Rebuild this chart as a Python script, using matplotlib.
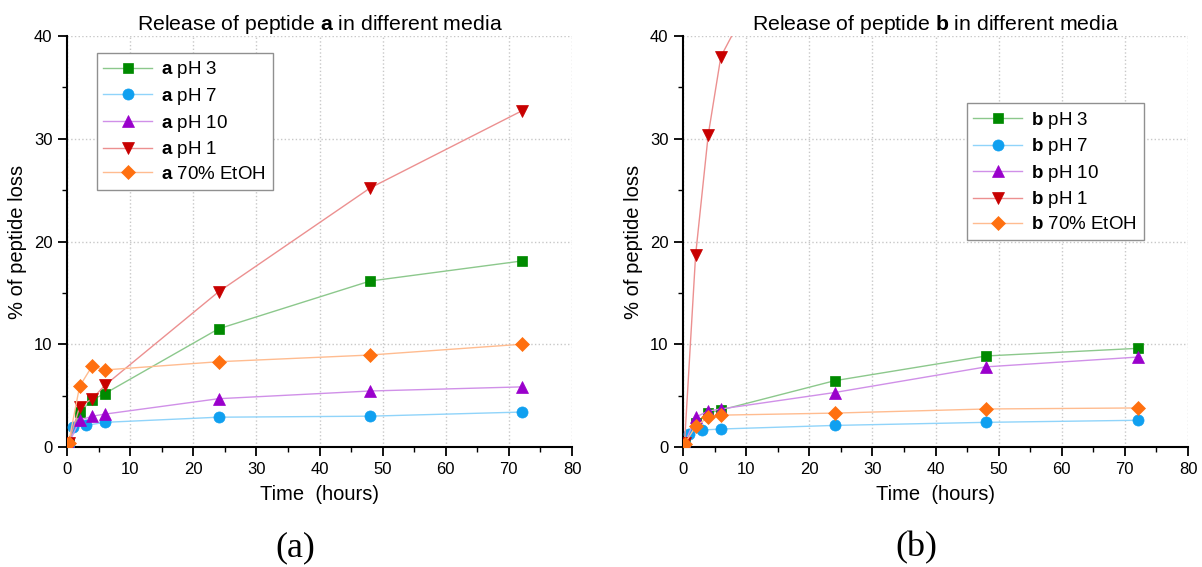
import numpy as np
import matplotlib
matplotlib.use('Agg')
import matplotlib.pyplot as plt
from matplotlib.ticker import MultipleLocator

plt.rcParams['font.family'] = 'Liberation Sans'
plt.rcParams['mathtext.fontset'] = 'custom'
plt.rcParams['mathtext.rm'] = 'Liberation Sans'
plt.rcParams['mathtext.bf'] = 'Liberation Sans:bold'

# ---- data ----
t_std = [0.25, 2, 4, 6, 24, 48, 72]
t_ph7 = [0.25, 1, 3, 6, 24, 48, 72]

a_ph3 = [0.3, 3.4, 4.6, 5.2, 11.5, 16.15, 18.1]
a_ph7 = [0.3, 1.9, 2.1, 2.4, 2.9, 3.0, 3.4]
a_ph10 = [0.3, 2.6, 3.0, 3.2, 4.7, 5.45, 5.85]
a_ph1 = [0.4, 3.9, 4.7, 6.0, 15.1, 25.2, 32.7]
a_etoh = [0.4, 5.9, 7.9, 7.5, 8.3, 8.95, 10.0]

b_ph3 = [0.3, 2.3, 3.3, 3.6, 6.45, 8.86, 9.6]
b_ph7 = [0.3, 1.3, 1.65, 1.75, 2.1, 2.4, 2.6]
b_ph10 = [0.3, 2.9, 3.5, 3.7, 5.3, 7.8, 8.75]
t_b_ph1 = [0.25, 2, 4, 6, 24]
b_ph1 = [0.4, 18.7, 30.4, 38.0, 59.0]
b_etoh = [0.3, 2.0, 2.9, 3.1, 3.3, 3.7, 3.8]

media = ['pH 3', 'pH 7', 'pH 10', 'pH 1', '70% EtOH']
markers = ['s', 'o', '^', 'v', 'D']
marker_colors = ['#008a00', '#10a0f0', '#9a00cc', '#c80000', '#ff7010']
line_colors = ['#8cc88c', '#90d4fa', '#d090e8', '#ec9090', '#ffbc90']
msizes = [7, 8, 8.5, 8.5, 7]

panels = [
    ('a', [(t_std, a_ph3), (t_ph7, a_ph7), (t_std, a_ph10), (t_std, a_ph1), (t_std, a_etoh)],
     (0.059, 0.959)),
    ('b', [(t_std, b_ph3), (t_ph7, b_ph7), (t_std, b_ph10), (t_b_ph1, b_ph1), (t_std, b_etoh)],
     (0.562, 0.837)),
]

fig = plt.figure(figsize=(12.02, 5.67), dpi=100)
ax_left = [67 / 1202, 683 / 1202]
panel_label_x = [295.5 / 1202, 916.5 / 1202]

for i, (name, series, leg_pos) in enumerate(panels):
    ax = fig.add_axes([ax_left[i], 120 / 567, 505 / 1202, 411 / 567])
    for j, (t, y) in enumerate(series):
        ax.plot(t, y, '-', color=line_colors[j], linewidth=1.0, marker=markers[j],
                markersize=msizes[j], markerfacecolor=marker_colors[j],
                markeredgecolor=marker_colors[j], markeredgewidth=0.5,
                label=r'$\mathbf{' + name + '}$ ' + media[j], zorder=3)

    ax.set_xlim(0, 80)
    ax.set_ylim(0, 40)
    ax.xaxis.set_major_locator(MultipleLocator(10))
    ax.xaxis.set_minor_locator(MultipleLocator(5))
    ax.yaxis.set_major_locator(MultipleLocator(10))
    ax.yaxis.set_minor_locator(MultipleLocator(5))
    ax.grid(True, which='major', linestyle=':', color='#c8c8c8', linewidth=1.0, zorder=0)

    ax.spines['top'].set_visible(False)
    ax.spines['right'].set_visible(False)
    ax.spines['left'].set_linewidth(1.5)
    ax.spines['bottom'].set_linewidth(1.5)
    ax.tick_params(axis='both', which='major', labelsize=12, length=6.5, width=1.3,
                   direction='out', pad=4)
    ax.tick_params(axis='both', which='minor', length=3.5, width=1.0, direction='out')

    ax.set_xlabel('Time  (hours)', fontsize=14.5, labelpad=6)
    ax.set_ylabel('% of peptide loss', fontsize=14.5, labelpad=5)
    ax.set_title(r'Release of peptide $\mathbf{' + name + '}$ in different media',
                 fontsize=15.3, pad=3)

    leg = ax.legend(loc='upper left', bbox_to_anchor=leg_pos, borderaxespad=0,
                    fontsize=13.5, fancybox=False, framealpha=1, edgecolor='#909090',
                    handlelength=2.6, handletextpad=0.5, labelspacing=0.3,
                    borderpad=0.35)
    leg.get_frame().set_linewidth(1.0)

    fig.text(panel_label_x[i], 11 / 567, '(' + name + ')',
             ha='center', va='baseline', fontsize=26, family='Liberation Serif')

fig.savefig('out.png', dpi=100)
